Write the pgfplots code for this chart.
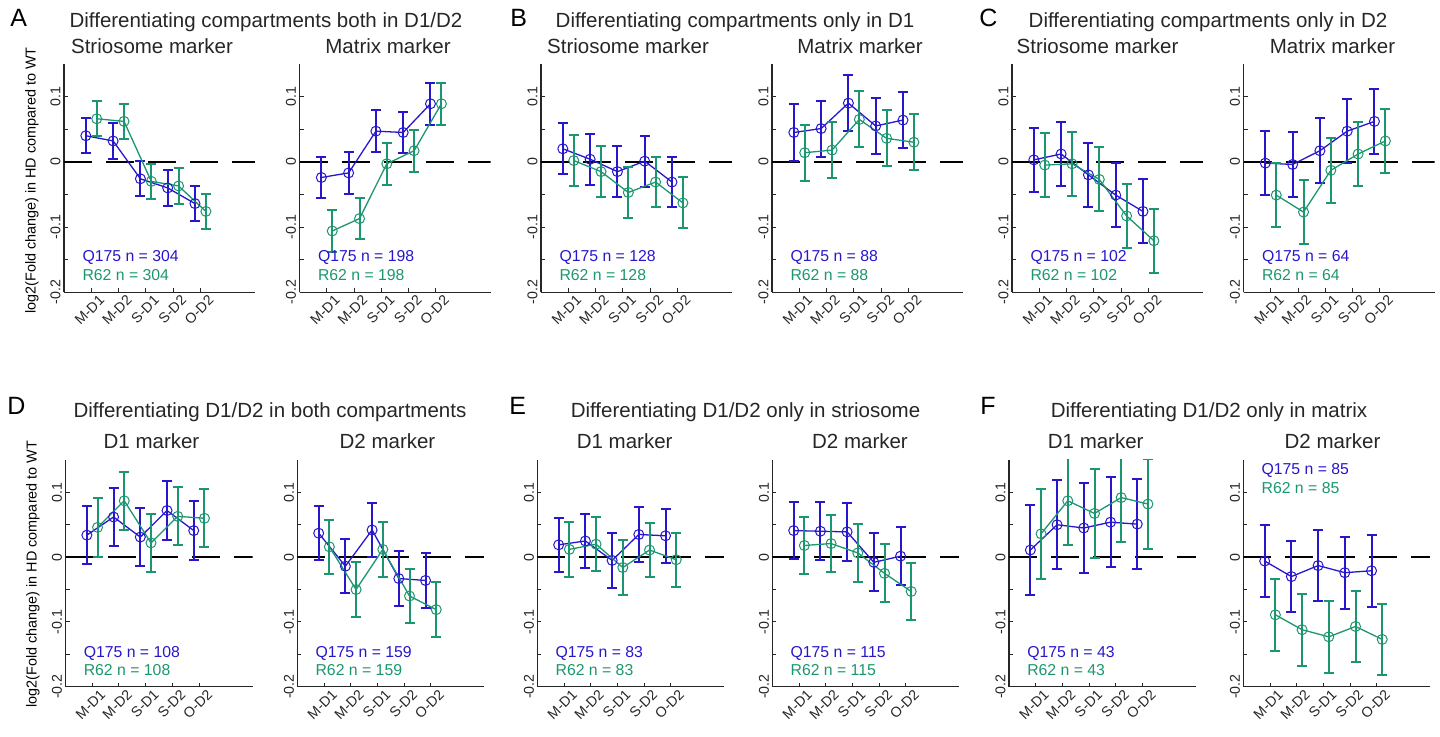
\documentclass[border=0pt]{standalone}
\usepackage{pgfplots}
\usepackage{pgfplotstable}
\pgfplotsset{compat=1.18}
\usepackage{fontspec}
\setmainfont{Liberation Sans}
\definecolor{qblue}{RGB}{40,22,204}
\definecolor{rgreen}{RGB}{27,150,112}
\definecolor{axgray}{RGB}{38,38,38}
\newcommand\titlesize{\fontsize{10.25}{12}\selectfont}
\newcommand\annsize{\fontsize{7.9}{9}\selectfont}
\newcommand\ticksize{\fontsize{7.1}{8}\selectfont}
\newcommand\ylabsize{\fontsize{7.2}{8}\selectfont}
\newcommand\lettersize{\fontsize{12.5}{14}\selectfont}

% columns: xq yq xr yr e
\pgfplotstableread{
xq yq xr yr e
0.8 0.040 1.2 0.066 0.027
1.8 0.032 2.2 0.062 0.027
2.8 -0.026 3.2 -0.030 0.027
3.8 -0.040 4.2 -0.037 0.027
4.8 -0.064 5.2 -0.076 0.027
}\tAS
\pgfplotstableread{
xq yq xr yr e
0.8 -0.024 1.2 -0.106 0.032
1.8 -0.017 2.2 -0.087 0.032
2.8 0.047 3.2 -0.003 0.032
3.8 0.045 4.2 0.017 0.032
4.8 0.089 5.2 0.089 0.032
}\tAM
\pgfplotstableread{
xq yq xr yr e
0.8 0.020 1.2 0.002 0.039
1.8 0.004 2.2 -0.015 0.039
2.8 -0.015 3.2 -0.047 0.039
3.8 0.001 4.2 -0.031 0.039
4.8 -0.031 5.2 -0.063 0.039
}\tBS
\pgfplotstableread{
xq yq xr yr e
0.8 0.045 1.2 0.014 0.043
1.8 0.051 2.2 0.018 0.043
2.8 0.090 3.2 0.065 0.043
3.8 0.055 4.2 0.036 0.043
4.8 0.064 5.2 0.030 0.043
}\tBM
\pgfplotstableread{
xq yq xr yr e
0.8 0.003 1.2 -0.005 0.049
1.8 0.012 2.2 -0.003 0.049
2.8 -0.020 3.2 -0.027 0.049
3.8 -0.051 4.2 -0.083 0.049
4.8 -0.076 5.2 -0.121 0.049
}\tCS
\pgfplotstableread{
xq yq xr yr e
0.8 -0.002 1.2 -0.051 0.0495
1.8 -0.004 2.2 -0.077 0.0495
2.8 0.017 3.2 -0.013 0.0495
3.8 0.047 4.2 0.012 0.0495
4.8 0.062 5.2 0.032 0.0495
}\tCM
\pgfplotstableread{
xq yq xr yr e
0.8 0.034 1.2 0.046 0.045
1.8 0.062 2.2 0.087 0.045
2.8 0.031 3.2 0.022 0.045
3.8 0.072 4.2 0.063 0.045
4.8 0.041 5.2 0.060 0.045
}\tDA
\pgfplotstableread{
xq yq xr yr e
0.8 0.037 1.2 0.016 0.042
1.8 -0.014 2.2 -0.050 0.042
2.8 0.042 3.2 0.012 0.042
3.8 -0.033 4.2 -0.060 0.042
4.8 -0.036 5.2 -0.081 0.042
}\tDB
\pgfplotstableread{
xq yq xr yr e
0.8 0.019 1.2 0.012 0.042
1.8 0.025 2.2 0.020 0.042
2.8 -0.005 3.2 -0.016 0.042
3.8 0.035 4.2 0.011 0.042
4.8 0.033 5.2 -0.004 0.042
}\tEA
\pgfplotstableread{
xq yq xr yr e
0.8 0.041 1.2 0.018 0.0446
1.8 0.040 2.2 0.021 0.0446
2.8 0.039 3.2 0.0065 0.0446
3.8 -0.008 4.2 -0.025 0.0446
4.8 0.0015 5.2 -0.053 0.0446
}\tEB
\pgfplotstableread{
xq yq xr yr e
0.8 0.011 1.2 0.036 0.069
1.8 0.050 2.2 0.087 0.069
2.8 0.045 3.2 0.0675 0.069
3.8 0.054 4.2 0.092 0.069
4.8 0.051 5.2 0.082 0.069
}\tFA
\pgfplotstableread{
xq yq xr yr e
0.8 -0.006 1.2 -0.089 0.0554
1.8 -0.030 2.2 -0.112 0.0554
2.8 -0.013 3.2 -0.123 0.0554
3.8 -0.024 4.2 -0.107 0.0554
4.8 -0.021 5.2 -0.127 0.0554
}\tFB

\pgfplotsset{
  pan/.style={
    scale only axis, anchor=south west,
    xmin=0, xmax=7, ymin=-0.2, ymax=0.15,
    axis x line*=bottom, axis y line*=left,
    axis line style={draw=axgray, line width=0.65pt, -},
    xtick={1,2,3,4,5}, xticklabels={M-D1,M-D2,S-D1,S-D2,O-D2},
    ytick={-0.2,-0.1,0,0.1}, yticklabels={-0.2,-0.1,0,0.1},
    minor ytick={-0.15,-0.05,0.05},
    tick align=inside, major tick length=2pt, minor tick length=2pt,
    tick style={draw=axgray, line width=0.5pt},
    yticklabel style={rotate=90, anchor=south, font=\ticksize, text=axgray, inner sep=1.5pt},
    xticklabel style={rotate=45, anchor=north east, font=\ticksize, text=axgray, inner sep=1pt, xshift=3pt, yshift=-2pt},
  },
  top/.style={pan, width=95.5pt, height=114.15pt},
  bot/.style={pan, width=93.5pt, height=113.35pt},
  qser/.style={draw=qblue, line width=0.65pt, mark=o, mark size=2.5pt,
    mark options={line width=0.5pt, solid, draw=qblue},
    error bars/.cd, y dir=both, y explicit,
    error bar style={line width=1pt, draw=qblue},
    error mark=-,
    error mark options={rotate=90, draw=qblue, line width=1pt, mark size=2.5pt}},
  rser/.style={draw=rgreen, line width=0.65pt, mark=o, mark size=2.5pt,
    mark options={line width=0.5pt, solid, draw=rgreen},
    error bars/.cd, y dir=both, y explicit,
    error bar style={line width=1pt, draw=rgreen},
    error mark=-,
    error mark options={rotate=90, draw=rgreen, line width=1pt, mark size=2.5pt}},
  zline/.style={black, line width=0.75pt, dash pattern=on 14pt off 7pt, forget plot},
}

\newcommand\panelplots[1]{%
  \addplot[zline] coordinates {(0,0) (7,0)};
  \addplot[qser] table[x=xq, y=yq, y error=e] {#1};
  \addplot[rser] table[x=xr, y=yr, y error=e] {#1};
}

\begin{document}
\begin{tikzpicture}
\path[use as bounding box] (0,0) rectangle (720pt,368.5pt);

% ---------- top row ----------
\begin{axis}[top, at={(32pt,222.35pt)}]
\panelplots{\tAS}
\node[anchor=west, text=qblue, font=\annsize] at (axis cs:0.42,-0.146) {Q175 n = 304};
\node[anchor=west, text=rgreen, font=\annsize] at (axis cs:0.42,-0.173) {R62 n = 304};
\end{axis}
\begin{axis}[top, at={(149.75pt,222.35pt)}]
\panelplots{\tAM}
\node[anchor=west, text=qblue, font=\annsize] at (axis cs:0.42,-0.146) {Q175 n = 198};
\node[anchor=west, text=rgreen, font=\annsize] at (axis cs:0.42,-0.173) {R62 n = 198};
\end{axis}
\begin{axis}[top, at={(270.5pt,222.35pt)}]
\panelplots{\tBS}
\node[anchor=west, text=qblue, font=\annsize] at (axis cs:0.42,-0.146) {Q175 n = 128};
\node[anchor=west, text=rgreen, font=\annsize] at (axis cs:0.42,-0.173) {R62 n = 128};
\end{axis}
\begin{axis}[top, at={(386pt,222.35pt)}]
\panelplots{\tBM}
\node[anchor=west, text=qblue, font=\annsize] at (axis cs:0.42,-0.146) {Q175 n = 88};
\node[anchor=west, text=rgreen, font=\annsize] at (axis cs:0.42,-0.173) {R62 n = 88};
\end{axis}
\begin{axis}[top, at={(506pt,222.35pt)}]
\panelplots{\tCS}
\node[anchor=west, text=qblue, font=\annsize] at (axis cs:0.42,-0.146) {Q175 n = 102};
\node[anchor=west, text=rgreen, font=\annsize] at (axis cs:0.42,-0.173) {R62 n = 102};
\end{axis}
\begin{axis}[top, at={(621.75pt,222.35pt)}]
\panelplots{\tCM}
\node[anchor=west, text=qblue, font=\annsize] at (axis cs:0.42,-0.146) {Q175 n = 64};
\node[anchor=west, text=rgreen, font=\annsize] at (axis cs:0.42,-0.173) {R62 n = 64};
\end{axis}

% ---------- bottom row ----------
\begin{axis}[bot, at={(32.75pt,25.15pt)}]
\panelplots{\tDA}
\node[anchor=west, text=qblue, font=\annsize] at (axis cs:0.42,-0.148) {Q175 n = 108};
\node[anchor=west, text=rgreen, font=\annsize] at (axis cs:0.42,-0.174) {R62 n = 108};
\end{axis}
\begin{axis}[bot, at={(148.65pt,25.15pt)}]
\panelplots{\tDB}
\node[anchor=west, text=qblue, font=\annsize] at (axis cs:0.42,-0.148) {Q175 n = 159};
\node[anchor=west, text=rgreen, font=\annsize] at (axis cs:0.42,-0.174) {R62 n = 159};
\end{axis}
\begin{axis}[bot, at={(268.65pt,25.15pt)}]
\panelplots{\tEA}
\node[anchor=west, text=qblue, font=\annsize] at (axis cs:0.42,-0.148) {Q175 n = 83};
\node[anchor=west, text=rgreen, font=\annsize] at (axis cs:0.42,-0.174) {R62 n = 83};
\end{axis}
\begin{axis}[bot, at={(386.15pt,25.15pt)}]
\panelplots{\tEB}
\node[anchor=west, text=qblue, font=\annsize] at (axis cs:0.42,-0.148) {Q175 n = 115};
\node[anchor=west, text=rgreen, font=\annsize] at (axis cs:0.42,-0.174) {R62 n = 115};
\end{axis}
\begin{axis}[bot, at={(504.5pt,25.15pt)}]
\panelplots{\tFA}
\node[anchor=west, text=qblue, font=\annsize] at (axis cs:0.42,-0.148) {Q175 n = 43};
\node[anchor=west, text=rgreen, font=\annsize] at (axis cs:0.42,-0.174) {R62 n = 43};
\end{axis}
\begin{axis}[bot, at={(621.65pt,25.15pt)}]
\panelplots{\tFB}
\node[anchor=west, text=qblue, font=\annsize] at (axis cs:0.42,0.134) {Q175 n = 85};
\node[anchor=west, text=rgreen, font=\annsize] at (axis cs:0.42,0.106) {R62 n = 85};
\end{axis}

% ---------- titles ----------
\begin{scope}[every node/.style={text=axgray, inner sep=0pt}]
\node[anchor=base west, font=\lettersize, text=black] at (5pt,355pt) {A};
\node[anchor=base west, font=\lettersize, text=black] at (255pt,355pt) {B};
\node[anchor=base west, font=\lettersize, text=black] at (489.5pt,355pt) {C};
\node[anchor=base, font=\titlesize] at (133pt,354.5pt) {Differentiating compartments both in D1/D2};
\node[anchor=base, font=\titlesize] at (367.5pt,354.5pt) {Differentiating compartments only in D1};
\node[anchor=base, font=\titlesize] at (604pt,354.5pt) {Differentiating compartments only in D2};
\node[anchor=base, font=\titlesize] at (76pt,341.5pt) {Striosome marker};
\node[anchor=base, font=\titlesize] at (194pt,341.5pt) {Matrix marker};
\node[anchor=base, font=\titlesize] at (314pt,341.5pt) {Striosome marker};
\node[anchor=base, font=\titlesize] at (430pt,341.5pt) {Matrix marker};
\node[anchor=base, font=\titlesize] at (548.75pt,341.5pt) {Striosome marker};
\node[anchor=base, font=\titlesize] at (666.25pt,341.5pt) {Matrix marker};

\node[anchor=base west, font=\lettersize, text=black] at (3.5pt,161pt) {D};
\node[anchor=base west, font=\lettersize, text=black] at (254.5pt,161pt) {E};
\node[anchor=base west, font=\lettersize, text=black] at (490pt,161pt) {F};
\node[anchor=base, font=\titlesize] at (135pt,159.85pt) {Differentiating D1/D2 in both compartments};
\node[anchor=base, font=\titlesize] at (372.75pt,159.85pt) {Differentiating D1/D2 only in striosome};
\node[anchor=base, font=\titlesize] at (604.5pt,159.85pt) {Differentiating D1/D2 only in matrix};
\node[anchor=base, font=\titlesize] at (75.75pt,144.35pt) {D1 marker};
\node[anchor=base, font=\titlesize] at (193.75pt,144.35pt) {D2 marker};
\node[anchor=base, font=\titlesize] at (312.35pt,144.35pt) {D1 marker};
\node[anchor=base, font=\titlesize] at (430pt,144.35pt) {D2 marker};
\node[anchor=base, font=\titlesize] at (547.85pt,144.35pt) {D1 marker};
\node[anchor=base, font=\titlesize] at (666.25pt,144.35pt) {D2 marker};

\node[rotate=90, font=\ylabsize, text=black] at (16pt,278.25pt) {log2(Fold change) in HD compared to WT};
\node[rotate=90, font=\ylabsize, text=black] at (16.5pt,81.5pt) {log2(Fold change) in HD compared to WT};
\end{scope}
\end{tikzpicture}
\end{document}
